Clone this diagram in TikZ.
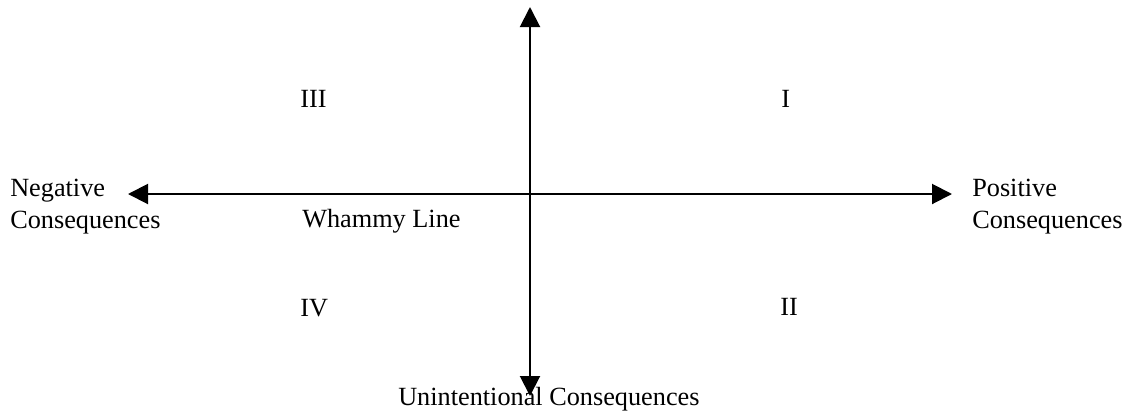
\documentclass[tikz,border=0pt]{standalone}
\usepackage{fontspec}
\setmainfont{Liberation Serif}
\usetikzlibrary{arrows.meta}
\begin{document}
\begin{tikzpicture}[x=0.75pt, y=-0.75pt, >={Triangle[length=15pt, width=15pt]},
  lbl/.style={inner sep=0pt, anchor=base west, font=\fontsize{19.7pt}{23.3pt}\selectfont}]
\useasboundingbox (0,0) rectangle (1129,415);
\coordinate (top) at (530,7);
\coordinate (bot) at (530,396);
\coordinate (left) at (128,194);
\coordinate (right) at (952,194);
\node[lbl, align=left] (neg) at (10,228) {Negative\\Consequences};
\node[lbl, align=left] (pos) at (972,228) {Positive\\Consequences};
\node[lbl] (unint) at (398,405) {Unintentional Consequences};
\node[lbl] (q3) at (300,107) {III};
\node[lbl] (q1) at (781,107) {I};
\node[lbl] (q4) at (300,316) {IV};
\node[lbl] (q2) at (780,315) {II};
\node[lbl] (wl) at (302,227) {Whammy Line};
\draw[<->, line width=1.5pt] (left) -- (right);
\draw[<->, line width=1.5pt] (bot) -- (top);
\end{tikzpicture}
\end{document}
